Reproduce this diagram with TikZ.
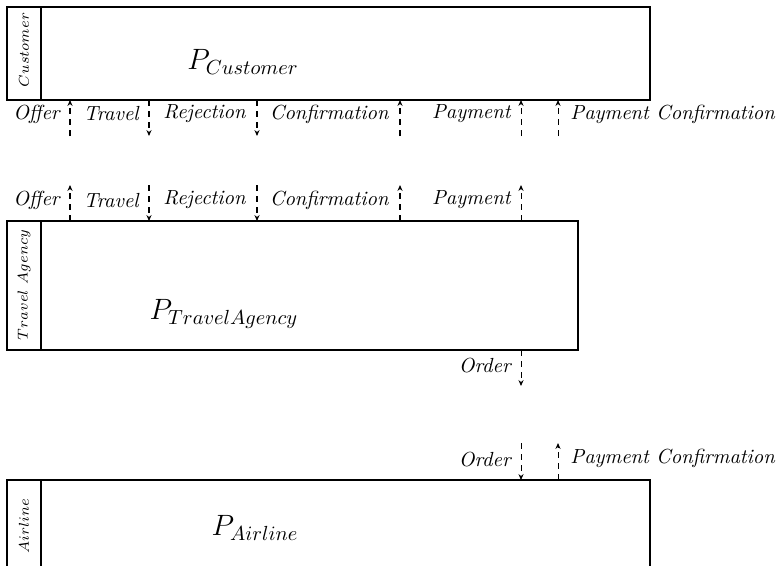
\documentclass[tikz,border=0pt]{standalone}
\usetikzlibrary{arrows.meta}
\tikzset{
  procbox/.style={draw, line width=0.6pt},
  msg/.style={dash pattern=on 3pt off 2.4pt, line width=0.5pt, -{Stealth[length=2.9pt,width=2.5pt]}},
  msglabel/.style={inner sep=0pt, font=\normalsize\itshape},
  lanelabel/.style={rotate=90, inner sep=0pt, font=\scriptsize},
  proclabel/.style={inner sep=0pt, font=\Large}
}
\begin{document}
\begin{tikzpicture}[x=0.49pt,y=-0.49pt]
\useasboundingbox (0,0) rectangle (776,565);
\clip (0,0) rectangle (776,565);

% ---- Customer process ----
\draw[procbox] (7,7) rectangle (650,100);
\draw[procbox] (41,7) -- (41,100);
\node[lanelabel] (laneC) at (24,50) {$Customer$};
\node[proclabel] (pC) at (243,62) {$P_{Customer}$};

\coordinate (cOfferA) at (70,100);   \coordinate (cOfferB) at (70,136);
\coordinate (cTravA) at (149,100);   \coordinate (cTravB) at (149,136);
\coordinate (cRejA) at (257,100);    \coordinate (cRejB) at (257,136);
\coordinate (cConfA) at (400,100);   \coordinate (cConfB) at (400,136);
\coordinate (cPayA) at (521,100);    \coordinate (cPayB) at (521,136);
\coordinate (cPCA) at (558,100);     \coordinate (cPCB) at (558,136);
\draw[msg] (cOfferB) -- (cOfferA);
\draw[msg] (cTravA) -- (cTravB);
\draw[msg] (cRejA) -- (cRejB);
\draw[msg] (cConfB) -- (cConfA);
\draw[msg] (cPayB) -- (cPayA);
\draw[msg] (cPCB) -- (cPCA);
\node[msglabel, anchor=east] (lcOffer) at (60,114) {Offer};
\node[msglabel, anchor=east] (lcTrav) at (139,114) {Travel};
\node[msglabel, anchor=east] (lcRej) at (246,114) {Rejection};
\node[msglabel, anchor=east] (lcConf) at (389,114) {Confirmation};
\node[msglabel, anchor=east] (lcPay) at (511,114) {Payment};
\node[msglabel, anchor=west] (lcPC) at (570,114) {Payment Confirmation};

% ---- Travel agency process ----
\draw[procbox] (7,221) rectangle (578,350);
\draw[procbox] (41,221) -- (41,350);
\node[lanelabel] (laneT) at (24,285) {$Travel\ Agency$};
\node[proclabel] (pT) at (224,314) {$P_{TravelAgency}$};

\coordinate (tOfferA) at (70,221);   \coordinate (tOfferB) at (70,185);
\coordinate (tTravA) at (149,221);   \coordinate (tTravB) at (149,185);
\coordinate (tRejA) at (257,221);    \coordinate (tRejB) at (257,185);
\coordinate (tConfA) at (400,221);   \coordinate (tConfB) at (400,185);
\coordinate (tPayA) at (521,221);    \coordinate (tPayB) at (521,185);
\draw[msg] (tOfferA) -- (tOfferB);
\draw[msg] (tTravB) -- (tTravA);
\draw[msg] (tRejB) -- (tRejA);
\draw[msg] (tConfA) -- (tConfB);
\draw[msg] (tPayA) -- (tPayB);
\node[msglabel, anchor=east] (ltOffer) at (60,200) {Offer};
\node[msglabel, anchor=east] (ltTrav) at (139,201) {Travel};
\node[msglabel, anchor=east] (ltRej) at (246,200) {Rejection};
\node[msglabel, anchor=east] (ltConf) at (389,200) {Confirmation};
\node[msglabel, anchor=east] (ltPay) at (511,200) {Payment};

\coordinate (tOrdA) at (521,350);    \coordinate (tOrdB) at (521,386);
\draw[msg] (tOrdA) -- (tOrdB);
\node[msglabel, anchor=east] (ltOrd) at (511,366) {Order};

% ---- Airline process ----
\draw[procbox] (7,480) rectangle (650,600);
\draw[procbox] (41,480) -- (41,600);
\node[lanelabel] (laneA) at (24,526) {$Airline$};
\node[proclabel] (pA) at (255,528) {$P_{Airline}$};

\coordinate (aOrdA) at (521,480);    \coordinate (aOrdB) at (521,443);
\coordinate (aPCA) at (558,480);     \coordinate (aPCB) at (558,443);
\draw[msg] (aOrdB) -- (aOrdA);
\draw[msg] (aPCA) -- (aPCB);
\node[msglabel, anchor=east] (laOrd) at (511,460) {Order};
\node[msglabel, anchor=west] (laPC) at (570,458) {Payment Confirmation};
\end{tikzpicture}
\end{document}
